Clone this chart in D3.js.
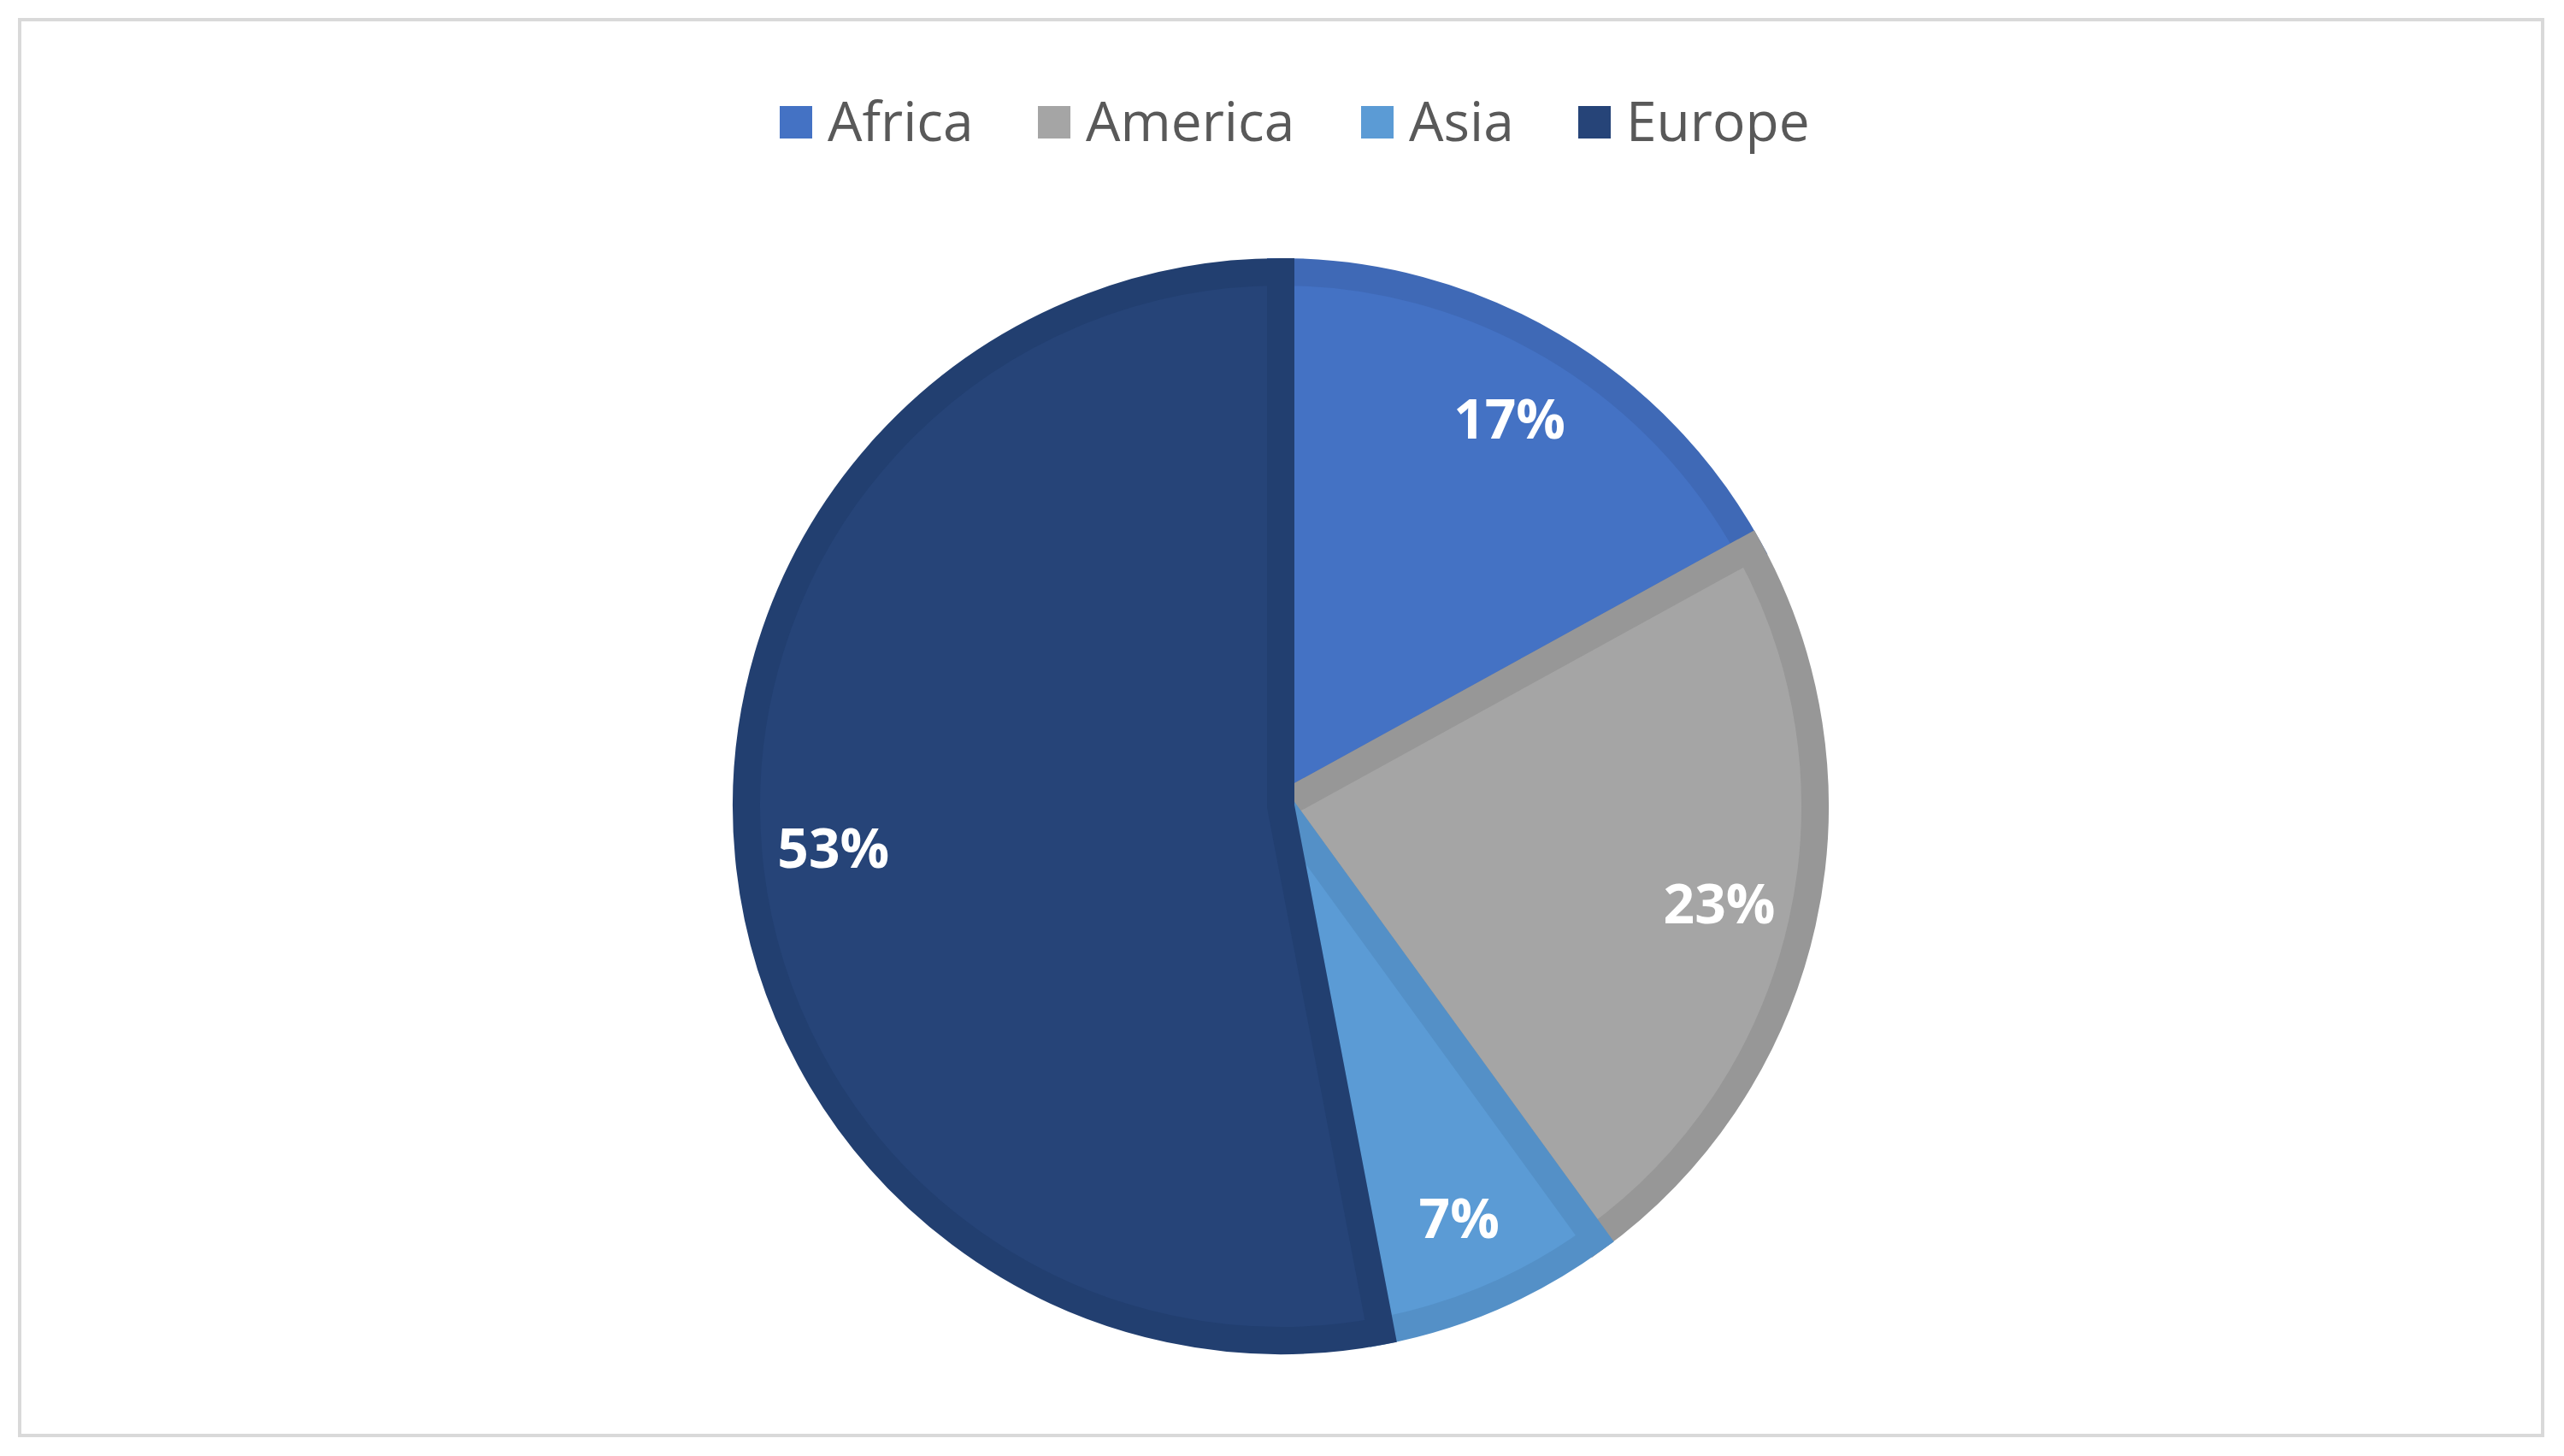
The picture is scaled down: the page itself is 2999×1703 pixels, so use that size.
<!DOCTYPE html>
<html><head><meta charset="utf-8">
<script src="https://cdn.jsdelivr.net/npm/d3@7/dist/d3.min.js"></script>
<style>body{margin:0;background:#fff}</style></head>
<body><svg id="c" width="2999" height="1703"></svg>
<script>
const categories = ["Africa","America","Asia","Europe"];
const values = [17,23,7,53];
const labels = ["17%","23%","7%","53%"];
const fills = ["#4472C4","#A5A5A5","#5B9BD5","#264478"];
const strokes = ["#3F69B6","#979797","#5490C7","#223F70"];

const svg = d3.select("#c");
svg.append("rect").attr("x",23).attr("y",23).attr("width",2951).attr("height",1656)
  .attr("fill","#fff").attr("stroke","#D9D9D9").attr("stroke-width",4);

const cx=1498, cy=943, R=641, sw=32;
const pie = d3.pie().sort(null).value(d=>d);
const arcs = pie(values);
const arc = d3.arc().innerRadius(0).outerRadius(R - sw/2);
const g = svg.append("g").attr("transform",`translate(${cx},${cy})`);
g.selectAll("path").data(arcs).join("path")
  .attr("d",arc).attr("fill",(d,i)=>fills[i]).attr("stroke",(d,i)=>strokes[i])
  .attr("stroke-width",sw).attr("stroke-linejoin","miter");
const la = d3.arc().innerRadius(R*0.82).outerRadius(R*0.82);
g.selectAll("text").data(arcs).join("text")
  .attr("transform",d=>`translate(${la.centroid(d)})`)
  .attr("text-anchor","middle").attr("dy","0.35em")
  .attr("font-family","'Open Sans', sans-serif").attr("font-weight","bold")
  .attr("font-size",64).attr("fill","#fff").text((d,i)=>labels[i]);

// legend
const lx = [912, 1214, 1592, 1846];
const lg = svg.append("g");
categories.forEach((c,i)=>{
  lg.append("rect").attr("x",lx[i]).attr("y",124).attr("width",38).attr("height",38).attr("fill",fills[i]);
  lg.append("text").attr("x",lx[i]+56).attr("y",143).attr("dy","0.35em")
    .attr("font-family","'Open Sans', sans-serif").attr("font-size",64).attr("fill","#595959").text(c);
});
</script></body></html>
